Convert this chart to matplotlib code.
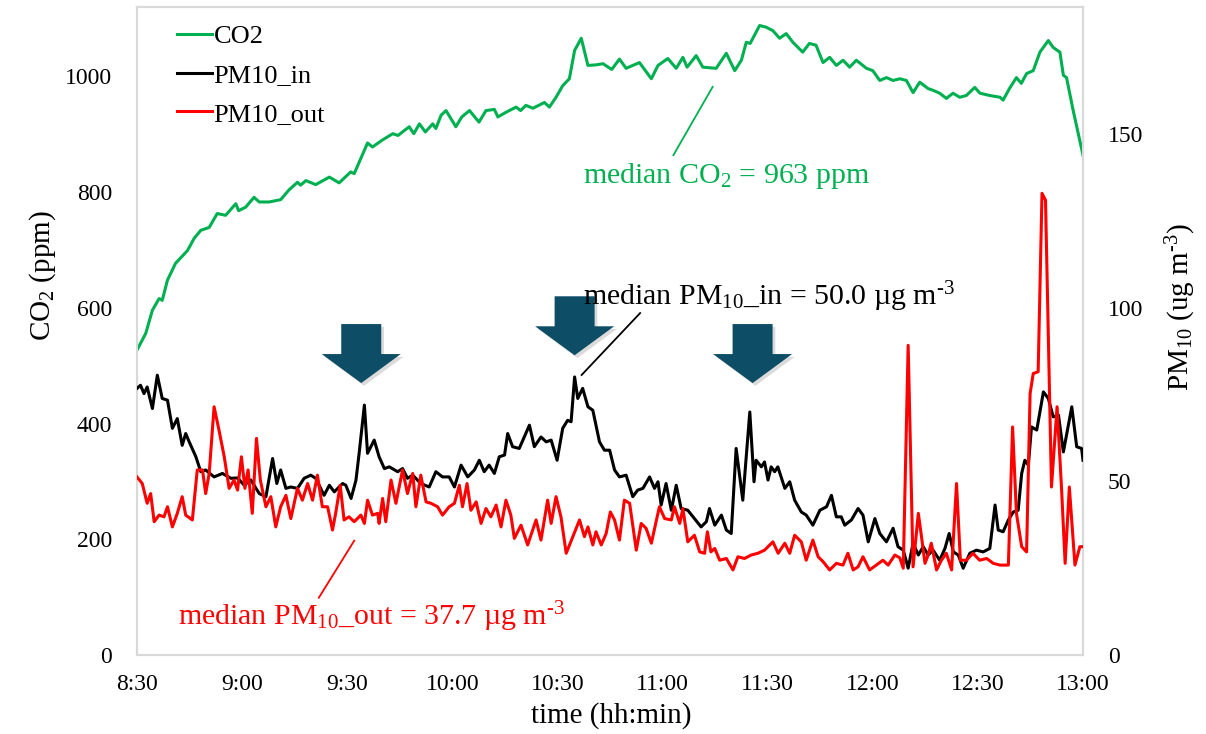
import matplotlib
matplotlib.use("Agg")
import matplotlib.pyplot as plt
import matplotlib.patheffects as pe
from matplotlib.patches import Polygon
from matplotlib.lines import Line2D

plt.rcParams['font.family'] = ['Liberation Serif', 'DejaVu Serif']
plt.rcParams['mathtext.fontset'] = 'custom'
plt.rcParams['mathtext.rm'] = 'Liberation Serif'
plt.rcParams['mathtext.it'] = 'Liberation Serif:italic'
plt.rcParams['mathtext.bf'] = 'Liberation Serif:bold'

# ---------------- data (minutes after 8:30) ----------------
co2_t = [0, 2.5, 4.4, 6.3, 7.2, 8.7, 11, 14.4, 16.3, 18.2, 20.6, 22.9, 25.3, 28.2, 29, 31, 33.4, 34.9,
         37.7, 41, 43.4, 45.8, 46.7, 48.2, 51, 54.9, 57.7, 61, 62, 65.8, 67.2, 70, 73, 74.5, 77.7, 79,
         80.6, 82.3, 84.4, 85.3, 86.8, 88.2, 91, 92.7, 94.9, 97.6, 99.6, 102, 103, 105.3, 108.2, 109.5,
         111, 113, 116.3, 117.7, 119.6, 121.5, 123.4, 124.9, 126.8, 128.7, 131, 133, 135.5, 137.7,
         139.6, 143.4, 146.8, 148.7, 151.5, 153.9, 155.8, 157, 159.6, 161.5, 165.3, 168.2, 170.6,
         172.5, 173.9, 175, 177.7, 179.6, 181.5, 183.4, 185.3, 187.2, 190, 191.9, 193.8, 195.8, 197.7,
         199.6, 201.5, 203.4, 205.3, 208.2, 210, 212, 213.9, 215.8, 217.7, 219.6, 221.5, 223.4, 225.8,
         227.2, 229.1, 231, 232.9, 234.8, 236.7, 239.1, 240.6, 243.4, 246.3, 247.2, 249, 251, 252.4,
         253.9, 255.8, 257.7, 260.1, 261.5, 263.4, 264.4, 265.3, 267.2, 270]
co2_v = [527, 556, 596, 616, 613, 648, 677, 699, 720, 734, 739, 763, 760, 780, 768, 774, 791, 783,
         783, 787, 804, 817, 812, 820, 813, 826, 816, 835, 832, 885, 878, 890, 901, 898, 913, 901,
         918, 904, 918, 910, 933, 941, 913, 930, 941, 921, 941, 943, 930, 938, 947, 941,
         950, 945, 955, 947, 964, 984, 996, 1045, 1066, 1019, 1020, 1022, 1012, 1030,
         1014, 1024, 996, 1019, 1031, 1014, 1033, 1016, 1036, 1016, 1014, 1040, 1010,
         1028, 1059, 1057, 1088, 1085, 1079, 1066, 1074, 1059, 1042, 1057, 1054, 1024, 1033,
         1019, 1028, 1016, 1028, 1014, 1010, 993, 998, 993, 996, 993, 972, 990, 979,
         976, 971, 962, 971, 964, 967, 981, 971, 967, 964, 959, 979, 998, 988,
         1005, 1010, 1042, 1062, 1050, 1042, 1002, 998, 941, 864]

pm_in_t = [0, 1, 2, 2.9, 4.4, 5.8, 7.2, 8.7, 10.1, 11.5, 12.9, 13.9, 14.9, 16.8, 18.2, 19.6, 22, 24.4,
           26.8, 28.7, 30.6, 32.5, 34.9, 36.8, 38.7, 39.9, 41, 42.5, 43.9, 45.8, 47.7, 49.6, 51, 53.4,
           54.9, 56.3, 58.7, 59.6, 61.1, 62.5, 63.4, 64.9, 65.8, 67.7, 69.1, 70.6, 72, 74.4, 75.8,
           77.2, 78.7, 81, 83.4, 85.3, 87.2, 89.1, 90.6, 92.5, 94.4, 96.3, 97.7, 99.1, 100.5, 102,
           103.4, 104.9, 105.8, 107.2, 109.1, 112, 113.4, 115.3, 116.8, 118.2, 119.9, 121.5, 122.9,
           123.9, 124.9, 125.8, 127.2, 128.7, 130.1, 132, 133.4, 134.9, 136.3, 137.7, 139.6, 141.5,
           142.9, 144.4, 146.3, 147.7, 148.7, 149.6, 151, 152.5, 153.9, 155.3, 157.2, 159.1, 161,
           162.5, 163.4, 164.9, 166.8, 168.2, 169.6, 171, 172.9, 174.9, 176.1, 176.7, 178.2, 179.1,
           180.1, 181, 182, 182.9, 184.9, 186.3, 187.7, 189.6, 191, 192.9, 194.9, 196.8, 198.2,
           199.6, 201, 202, 203.9, 205.8, 207.2, 208.7, 210.6, 212, 213.9, 215.8, 217.2, 218.7,
           220.1, 221.5, 223, 224.4, 225.8, 227.2, 229.1, 230.6, 231.8, 233, 234.4, 235.8, 237.7,
           239.6, 241.5, 243.4, 244.9, 245.8, 247.2, 248.7, 250.1, 251.5, 252.5, 253.4, 254.4,
           255.3, 256.8, 258.7, 260.1, 261.5, 263, 264.4, 266.8, 268.2, 269.6, 270]
pm_in_v = [76.8, 77.7, 75.3, 77.2, 71, 80.6, 73.9, 73.4, 65.3, 68.1, 60.4, 63.8, 61.4, 57.1, 52.8, 53.3, 51.3, 52.3,
           50.9, 51, 48.9, 50.4, 46.5, 45.6, 56.6, 49.4, 53.3, 48, 48.4, 48, 50.9, 51.8, 50.9, 46,
           48.9, 47, 49.4, 48.9, 45.1, 50.4, 58.1, 72, 58.1, 61.9, 57.1, 53.7, 54.2, 52.8, 53.7,
           50.9, 51.8, 49.4, 48.4, 52.8, 51.3, 51.3, 48.4, 54.7, 51.3, 53.3, 56.1, 52.8, 54.7, 52.3,
           57.1, 57.6, 63.8, 60, 59.5, 66.2, 60, 62.8, 61.4, 61.9, 56.1, 65.3, 67.6,
           67.2, 80.1, 73.9, 76.8, 71.5, 70.5, 61.4, 59, 59, 53.3, 51.3, 51.8, 45.6,
           47.5, 48, 51.3, 48, 49.9, 43.2, 49.4, 41.7, 48.9, 42.2, 41.7, 39.3, 36.9,
           38.4, 42.2, 37.4, 40.3, 36, 35, 59.5, 44.6, 70, 49.9, 56.1, 54.2, 55.6,
           50.4, 54.2, 52.8, 54.2, 48, 49.9, 44.6, 41.2, 40.3, 37.4, 41.7, 42.7, 46,
           39.8, 39.8, 37.4, 38.9, 42.2, 40.3, 32.6, 39.3, 35, 32.6, 36.5, 31.2, 30.2,
           25, 32.2, 28.8, 31.2, 28.8, 30.2, 27.3, 30.7, 35, 29.7, 28.8, 25, 29.3,
           30.2, 29.7, 30.7, 43.2, 36, 35.5, 38.9, 41.2, 41.7, 52.3, 56.1, 54.7,
           65.7, 64.8, 75.8, 73.9, 68.6, 69.1, 58.5, 71.5, 60, 59.5, 56.1]

pm_out_t = [0, 1.5, 2.9, 3.9, 4.9, 6.3, 7.7, 8.7, 10.1, 11.5, 12.9, 13.9, 15.8, 17.2, 18.7, 19.6, 20.6,
            22, 23.4, 24.9, 26.3, 27.7, 28.7, 29.8, 30.8, 31.7, 32.9, 34.1, 35.2, 36.8, 38.2, 39.6,
            41, 42.5, 43.9, 45.8, 47.2, 48.7, 50.1, 51.5, 52.9, 54.4, 55.8, 56.7, 58, 59.1, 60.5,
            62, 63.9, 64.9, 65.8, 67.2, 68.7, 69.1, 70.1, 71, 72.5, 73.9, 75.8, 77.2, 78.7, 79.6,
            81, 82.5, 83.9, 85.8, 87.2, 89.1, 90.6, 92, 92.9, 94.2, 95.3, 96.8, 98.2, 99.6, 101,
            102.5, 103.9, 105.3, 106.7, 107.7, 109.6, 111.5, 113.9, 115.3, 117.2, 118.2, 119.6,
            121, 122.5, 124.4, 126.3, 127.7, 128.7, 130.1, 131, 132.5, 133.9, 135.1, 136.3,
            137.7, 139.1, 140.6, 142.5, 143.9, 145.3, 146.8, 149.1, 150.6, 152.5, 153.4, 154.9,
            155.8, 157.2, 159.1, 160.6, 162, 162.8, 163.8, 164.9, 166.3, 168.2, 170.1, 171.5,
            173.4, 175.3, 177.2, 179.1, 181.5, 183, 184.9, 186.3, 187.7, 189.6, 191, 192.9,
            194.4, 195.8, 197.7, 199.6, 201.5, 202.9, 204.4, 205.8, 207.2, 209.1, 211, 212.9,
            214.4, 216.3, 217.7, 218.7, 220.1, 221.5, 223, 223.9, 224.9, 225.8, 226.7, 228.2,
            229.6, 231, 232.5, 233.9, 235, 236.7, 238.6, 240.5, 242.5, 244.4, 246.3, 248.7,
            249.9, 251, 252.5, 253.9, 254.9, 255.8, 257.2, 258.3, 259.3, 261, 262.6, 263.9,
            264.9, 266.1, 267.7, 269.1, 270]
pm_out_v = [51.3, 49.4, 43.7, 46.5, 38.4, 40.3, 39.8, 42.7, 36.9, 40.8, 45.6, 40.3, 38.9, 53.3, 53.3, 46.5, 52.3,
            71.5, 64.8, 57.1, 48, 50.4, 47.5, 57.1, 48, 53.3, 40.8, 62.4, 50.4, 42.7, 45.6, 36.9,
            42.7, 46, 39.3, 48, 44.6, 49.4, 44.6, 51.8, 42.7, 42.7, 36, 40.8, 48.9, 38.9, 39.8,
            38.4, 40.3, 37.9, 44.6, 40.3, 40.8, 37.9, 45.1, 38.4, 50.4, 43.7, 53.3, 46.5, 52.3, 42.7,
            51.8, 44.1, 43.7, 42.7, 40.3, 42.7, 43.7, 48.9, 42.7, 49.4, 41.7, 44.1, 37.9, 42.2, 39.8,
            43.2, 36.9, 44.6, 40.3, 33.6, 37.4, 31.7, 38.9, 33.1, 44.6, 37.9, 45.6,
            39.8, 29.3, 34.1, 38.9, 34.1, 36.9, 31.7, 35.5, 31.7, 35, 41.2, 38.9,
            33.1, 44.6, 43.7, 30.2, 37.9, 36.5, 32.2, 42.7, 39.3, 38.9, 42.7, 37.9,
            42.2, 32.6, 34.5, 29.7, 29.3, 35.5, 29.7, 30.7, 27.3, 27.8, 24.5, 28.3,
            27.8, 28.8, 29.3, 30.2, 32.6, 29.3, 32.2, 29.3, 34.5, 32.6, 27.3, 33.1,
            28.3, 26.9, 24.5, 26.4, 25.9, 29.3, 24.5, 25.4, 28.3, 24.5, 25.9, 27.3,
            25.9, 28.8, 28, 25, 89.2, 25.4, 40.8, 34.1, 26.4, 28.8, 32.2, 24.5,
            27.3, 29.3, 24.5, 49.4, 27.3, 27.3, 29.3, 27.3, 27.8, 26.4, 25.9, 25.9,
            65.7, 40.8, 31.2, 29.7, 75.3, 81.1, 81.6, 133, 131, 48.4, 71.5, 47.5,
            26.4, 48.4, 25.9, 31.2, 31.2]

x_ticks = [0, 30, 60, 90, 120, 150, 180, 210, 240, 270]
x_ticklabels = ['8:30', '9:00', '9:30', '10:00', '10:30', '11:00', '11:30', '12:00', '12:30', '13:00']
co2_ticks = [0, 200, 400, 600, 800, 1000]
pm_ticks = [0, 50, 100, 150]
arrow_times = [64, 124.9, 175.7]
arrow_tops = [572, 620, 572]  # ppm level of shaft top

GREEN = '#00b050'
RED = '#ff0000'
ARROW = '#0e4d66'

# ---------------- figure ----------------
W, H = 1206, 734
fig = plt.figure(figsize=(W / 100, H / 100), dpi=100)
L, R, B, T = 137, 1083, 655, 7
ax = fig.add_axes([L / W, (H - B) / H, (R - L) / W, (B - T) / H])
ax2 = ax.twinx()

ax.set_xlim(0, 270)
ax.set_ylim(0, 1120)
ax2.set_ylim(0, 1120 / 6)

l1, = ax.plot(co2_t, co2_v, color=GREEN, lw=2.2, zorder=3)
l2, = ax2.plot(pm_in_t, pm_in_v, color='black', lw=2.2, zorder=3)
l3, = ax2.plot(pm_out_t, pm_out_v, color=RED, lw=2.2, zorder=4)

# ticks
ax.set_xticks(x_ticks)
ax.set_xticklabels(x_ticklabels)
ax.set_yticks(co2_ticks)
ax2.set_yticks(pm_ticks)
ax.tick_params(axis='x', length=0, pad=14, labelsize=17)
ax.tick_params(axis='y', length=0, pad=18, labelsize=17)
ax2.tick_params(axis='y', length=0, pad=18, labelsize=17)

for a in (ax, ax2):
    for s in a.spines.values():
        s.set_color('#d9d9d9')
        s.set_linewidth(1.5)

# axis labels
ax.set_ylabel('CO$_2$ (ppm)', fontsize=21, ha='center', va='center')
ax.yaxis.set_label_coords(-0.1, 0.586)
ax2.set_ylabel('PM$_{10}$ (ug m$^{\\text{-3}}$)', fontsize=21, ha='center', va='center', rotation=90)
ax2.yaxis.set_label_coords(1.104, 0.537)
ax.set_xlabel('time (hh:min)', fontsize=21, ha='center', va='center')
ax.xaxis.set_label_coords(0.501, -0.094)

# legend
leg = ax2.legend([l1, l2, l3], ['CO2', 'PM10_in', 'PM10_out'], loc='upper left',
                 bbox_to_anchor=(0.042, 0.973), frameon=False, fontsize=19,
                 handlelength=1.35, handletextpad=0.05, labelspacing=0.58,
                 borderpad=0, borderaxespad=0)

# arrows (in CO2 data coordinates)
px_min = 270 / (R - L)       # minutes per pixel
px_ppm = 1120 / (B - T)      # ppm per pixel
for tx, top in zip(arrow_times, arrow_tops):
    sw = 20 * px_min
    hw = 39.5 * px_min
    sh = 30 * px_ppm
    hh = 29 * px_ppm
    pts = [(tx - sw, top), (tx + sw, top), (tx + sw, top - sh), (tx + hw, top - sh),
           (tx, top - sh - hh), (tx - hw, top - sh), (tx - sw, top - sh)]
    poly = Polygon(pts, closed=True, facecolor=ARROW, edgecolor='none', zorder=6)
    poly.set_transform(ax.transData)
    poly.set_path_effects([pe.SimplePatchShadow(offset=(2, -2), shadow_rgbFace='#999999', alpha=0.35),
                           pe.Normal()])
    ax2.add_artist(poly)

# annotations (CO2 coordinates)
ax2.add_line(Line2D([164.3, 153.1], [982, 864], color=GREEN, lw=1.3, transform=ax.transData, zorder=7))
ax2.add_line(Line2D([126.9, 143.6], [484, 591], color='black', lw=1.3, transform=ax.transData, zorder=7))
ax2.add_line(Line2D([62.0, 51.9], [197.6, 99], color=RED, lw=1.3, transform=ax.transData, zorder=7))

ax2.text(127.3, 828, 'median CO$_2$ = 963 ppm', color=GREEN, fontsize=21.5,
         ha='left', va='center', transform=ax.transData, zorder=8)
ax2.text(127.3, 619, 'median PM$_{10}$_in = 50.0 µg m$^{\\text{-3}}$', color='black', fontsize=21.5,
         ha='left', va='center', transform=ax.transData, zorder=8)
ax2.text(11.7, 65.7, 'median PM$_{10}$_out = 37.7 µg m$^{\\text{-3}}$', color=RED, fontsize=21.5,
         ha='left', va='center', transform=ax.transData, zorder=8)

fig.savefig('out.png', dpi=100)
